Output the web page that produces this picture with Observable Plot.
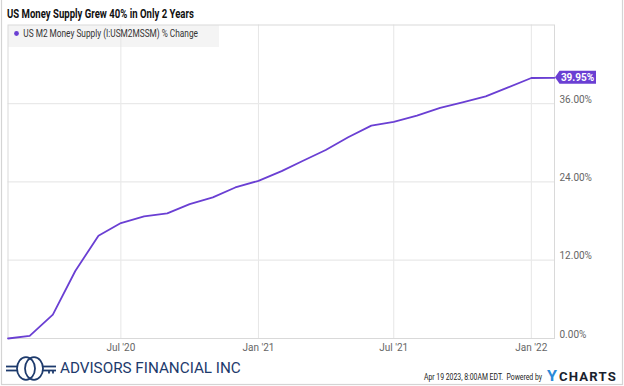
<!DOCTYPE html>
<html><head><meta charset="utf-8">
<script src="https://cdn.jsdelivr.net/npm/d3@7"></script>
<script src="https://cdn.jsdelivr.net/npm/@observablehq/plot@0.6"></script>
<style>
html,body{margin:0;padding:0;background:#fff;}
#wrap{position:relative;width:624px;height:386px;overflow:hidden;font-family:Roboto,"Liberation Sans",sans-serif;}
#legendbox{position:absolute;left:7.5px;top:24.5px;width:211px;height:22px;background:#f4f4f4;}
#chart{position:absolute;left:0;top:24px;}
#overlay{position:absolute;left:0;top:0;pointer-events:none;}
</style></head><body>
<div id="wrap">
  <div id="legendbox"></div>
  <div id="chart"></div>
  <svg id="overlay" width="624" height="386" xmlns="http://www.w3.org/2000/svg">
    <rect x="1.5" y="-2" width="621" height="386.5" fill="none" stroke="#d4d4d4" stroke-width="1.2"/>
    <text class="fit" data-x="7" data-y="17.5" data-w="187" font-family="Roboto" font-weight="700" font-size="12.5" fill="#111">US Money Supply Grew 40% in Only 2 Years</text>
    <circle cx="16.5" cy="33.5" r="2.4" fill="#6a3fd3"/>
    <text class="fit" data-x="23.3" data-y="37.2" data-w="175" font-family="Roboto" font-size="10" fill="#333">US M2 Money Supply (I:USM2MSSM) % Change</text>
    <g stroke="#1d3a6c" fill="none" stroke-width="1.8">
      <line x1="6" y1="366.5" x2="17" y2="366.5"/>
      <line x1="6" y1="370.5" x2="17" y2="370.5"/>
      <ellipse cx="26" cy="368.5" rx="9" ry="11.3"/>
      <ellipse cx="34" cy="368.5" rx="9" ry="11.3"/>
      <line x1="43" y1="366.5" x2="56" y2="366.5"/>
      <line x1="43" y1="370.5" x2="56" y2="370.5"/>
      <line x1="49" y1="370.5" x2="49" y2="373.5"/>
      <line x1="53" y1="370.5" x2="53" y2="373.5"/>
    </g>
    <text class="fit" data-x="60" data-y="372.5" data-w="181" font-family="Roboto" font-size="15.5" fill="#1d3a6c">ADVISORS FINANCIAL INC</text>
    <text class="fit" data-x="424" data-y="380" data-w="118" font-family="Roboto" font-size="9" fill="#222" xml:space="preserve">Apr 19 2023, 8:00AM EDT.  Powered by</text>
    <text class="fit" data-x="547" data-y="381" data-w="10" font-family="Roboto" font-weight="700" font-size="14" fill="#2b8ad8">Y</text>
    <text class="fit" data-x="559" data-y="381" data-w="58" font-family="Roboto" font-weight="700" font-size="13.5" fill="#1a1f2e" letter-spacing="1.2">CHARTS</text>
  </svg>
</div>
<script>
const months = ["2020-02-01","2020-03-01","2020-04-01","2020-05-01","2020-06-01","2020-07-01","2020-08-01","2020-09-01","2020-10-01","2020-11-01","2020-12-01",
  "2021-01-01","2021-02-01","2021-03-01","2021-04-01","2021-05-01","2021-06-01","2021-07-01","2021-08-01","2021-09-01","2021-10-01","2021-11-01","2021-12-01",
  "2022-01-01","2022-02-01"];
const pctChange = [0,0.4,3.67,10.34,15.76,17.69,18.71,19.17,20.6,21.62,23.15,
  24.17,25.65,27.2,28.9,30.85,32.63,33.2,34.16,35.34,36.2,37.12,38.49,
  39.93,39.95];
const yTicks = [0,12,24,36];
const xTicks = ["2020-07-01","2021-01-01","2021-07-01","2022-01-01"];
const xDomain = ["2020-02-01","2022-02-01"];
const lastLabel = "39.95%";

// fit overlay texts horizontally to their measured widths in the reference
document.querySelectorAll("#overlay text.fit").forEach(t => {
  const x = +t.dataset.x, y = +t.dataset.y, w = +t.dataset.w;
  const natural = t.getComputedTextLength() || w;
  t.setAttribute("transform", `translate(${x},${y}) scale(${w / natural},1)`);
});

const toDate = s => new Date(s + "T00:00:00Z");
const data = months.map((m, i) => ({date: toDate(m), value: pctChange[i]}));
const xTickDates = xTicks.map(toDate);
const purple = "#6a3fd3";

const plot = Plot.plot({
  width: 624,
  height: 332,
  marginLeft: 7.5,
  marginRight: 70,
  marginTop: 0.5,
  marginBottom: 18,
  x: {type: "utc", domain: xDomain.map(toDate), label: null},
  y: {domain: [0, 48.05], label: null},
  style: {fontFamily: "Roboto, sans-serif", fontSize: "10px", color: "#666", background: "transparent", overflow: "visible"},
  marks: [
    Plot.gridX(xTickDates, {stroke: "#e6e6e6", strokeOpacity: 1}),
    Plot.gridY(yTicks.slice(1), {stroke: "#e9e9e9", strokeOpacity: 1, strokeWidth: 1.2}),
    Plot.frame({stroke: "#d9d9d9"}),
    Plot.axisX(xTickDates, {tickSize: 0, tickPadding: 5, label: null, tickFormat: d => d3.utcFormat("%b '%y")(d), fill: "#666", fontSize: 10}),
    Plot.axisY(yTicks, {anchor: "right", tickSize: 0, tickPadding: 5, label: null, textAnchor: "start", dy: -4, tickFormat: d => d.toFixed(2) + "%", fill: "#666", fontSize: 10}),
    Plot.line(data, {x: "date", y: "value", stroke: purple, strokeWidth: 1.8})
  ]
});
document.getElementById("chart").appendChild(plot);

// value tag for last point, positioned through the plot's own scales
const last = data[data.length - 1];
const xs = plot.scale("x"), ys = plot.scale("y");
const tx = xs.apply(last.date) + 1, ty = ys.apply(last.value);
const svg = d3.select(plot);
const g = svg.append("g");
g.append("path")
  .attr("d", `M${tx},${ty} L${tx + 4.5},${ty - 6.5} L${tx + 41},${ty - 6.5} L${tx + 41},${ty + 6.5} L${tx + 4.5},${ty + 6.5} Z`)
  .attr("fill", purple);
g.append("text")
  .attr("x", tx + 22.5).attr("y", ty + 3.6)
  .attr("text-anchor", "middle")
  .attr("fill", "#fff").attr("font-weight", 700).attr("font-size", 10)
  .attr("font-family", "Roboto, sans-serif")
  .text(lastLabel);
</script>
</body></html>
